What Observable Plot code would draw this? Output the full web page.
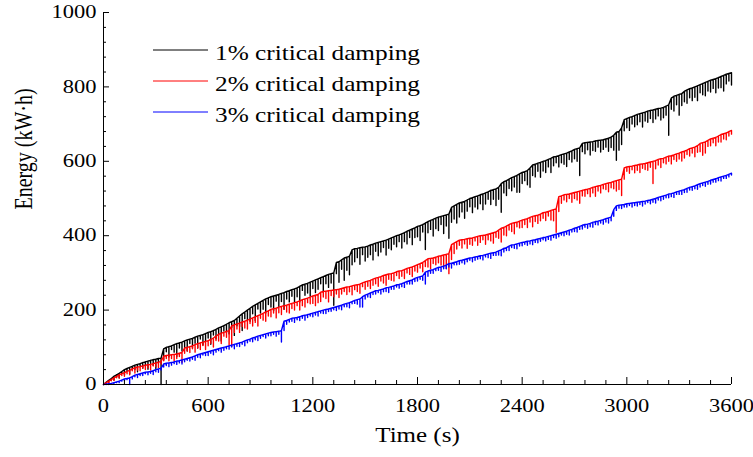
<!DOCTYPE html>
<html>
<head>
<meta charset="utf-8">
<script src="https://cdn.jsdelivr.net/npm/d3@7"></script>
<script src="https://cdn.jsdelivr.net/npm/@observablehq/plot@0.6"></script>
<style>
  html, body { margin: 0; padding: 0; background: #fff; }
</style>
</head>
<body>
<div id="chart"></div>
<script>
// ---- data ----
// Each series: upper edge of the curve every 15 s, and the depth of the
// downward spike hanging from it at that sample.
const sampleStep = 15; // seconds between samples
const time = d3.range(0, 3600 + sampleStep, sampleStep);

// 1% critical damping (black)
const top1 = [
  0, 6, 11, 16, 22, 26, 30, 35,
  40, 43, 46, 49, 52, 54, 56, 59,
  61, 63, 65, 67, 68, 70, 71, 96,
  100, 102, 104, 107, 110, 112, 114, 117,
  120, 122, 124, 127, 130, 132, 134, 137,
  140, 142, 145, 148, 152, 155, 158, 162,
  166, 169, 172, 178, 184, 190, 195, 200,
  205, 210, 214, 218, 222, 226, 230, 233,
  236, 238, 240, 242, 245, 247, 250, 252,
  255, 257, 260, 264, 268, 270, 272, 275,
  278, 281, 284, 287, 290, 293, 296, 298,
  300, 328, 330, 335, 340, 342, 345, 362,
  365, 366, 368, 369, 370, 372, 375, 377,
  380, 382, 384, 386, 388, 391, 394, 397,
  400, 402, 405, 408, 412, 415, 418, 421,
  425, 427, 430, 434, 438, 441, 444, 447,
  450, 452, 454, 456, 458, 476, 480, 484,
  488, 490, 492, 496, 500, 502, 505, 507,
  510, 512, 515, 518, 522, 524, 526, 530,
  540, 545, 548, 552, 556, 559, 562, 566,
  570, 572, 575, 582, 590, 592, 595, 597,
  600, 602, 605, 608, 612, 613, 615, 618,
  620, 622, 625, 628, 632, 634, 636, 648,
  650, 651, 652, 653, 655, 656, 657, 658,
  660, 662, 665, 670, 678, 680, 690, 712,
  715, 718, 720, 723, 726, 728, 730, 732,
  735, 737, 738, 740, 742, 743, 745, 748,
  752, 770, 775, 777, 780, 782, 788, 792,
  795, 797, 800, 803, 806, 809, 812, 815,
  818, 820, 822, 825, 828, 831, 834, 836,
  838
];
const dip1 = [
  0, 4, 8, 3, 10, 6, 12, 5,
  14, 6, 18, 8, 12, 20, 6, 15,
  10, 22, 8, 16, 25, 12, 71, 30,
  12, 28, 10, 20, 35, 14, 24, 18,
  30, 12, 26, 16, 32, 10, 28, 20,
  15, 34, 12, 25, 18, 38, 14, 22,
  30, 16, 40, 20, 28, 45, 18, 25,
  35, 20, 42, 15, 30, 24, 38, 18,
  28, 40, 16, 32, 22, 45, 20, 30,
  18, 36, 24, 42, 15, 30, 26, 38,
  20, 34, 28, 16, 40, 22, 35, 25,
  87, 30, 55, 25, 60, 35, 50, 40,
  35, 25, 45, 20, 38, 30, 26, 42,
  22, 36, 28, 18, 40, 25, 32, 20,
  30, 18, 38, 24, 34, 20, 42, 26,
  28, 40, 20, 71, 30, 24, 45, 28,
  36, 22, 48, 30, 65, 40, 35, 50,
  38, 26, 45, 30, 22, 40, 28, 35,
  24, 42, 30, 20, 38, 26, 45, 32,
  77, 30, 40, 25, 35, 28, 45, 49,
  30, 24, 38, 52, 28, 34, 22, 40,
  26, 32, 20, 38, 24, 17, 30, 22,
  28, 36, 20, 30, 25, 34, 74, 22,
  30, 20, 35, 24, 28, 18, 32, 26,
  22, 35, 28, 40, 75, 50, 45, 30,
  25, 35, 20, 30, 28, 22, 38, 24,
  30, 22, 34, 26, 20, 32, 28, 24,
  82, 30, 40, 25, 56, 32, 28, 36,
  24, 34, 28, 40, 22, 30, 36, 26,
  32, 24, 38, 28, 30, 42, 26, 20,
  33
];

// 2% critical damping (red)
const top2 = [
  0, 5, 9, 13, 18, 22, 26, 29,
  32, 35, 38, 42, 45, 47, 48, 50,
  52, 53, 54, 56, 58, 60, 62, 76,
  78, 79, 80, 81, 82, 84, 86, 98,
  100, 102, 104, 107, 110, 112, 114, 116,
  118, 121, 125, 130, 135, 138, 140, 143,
  145, 158, 160, 163, 165, 168, 170, 173,
  176, 179, 182, 185, 188, 191, 195, 198,
  202, 204, 205, 208, 210, 212, 213, 216,
  218, 220, 222, 225, 228, 230, 232, 235,
  238, 240, 242, 248, 250, 251, 252, 253,
  254, 255, 256, 258, 260, 262, 263, 265,
  267, 268, 270, 273, 276, 278, 280, 283,
  286, 288, 290, 293, 295, 297, 298, 300,
  303, 305, 306, 309, 312, 314, 316, 319,
  322, 325, 328, 333, 338, 339, 340, 342,
  345, 346, 348, 350, 352, 376, 380, 384,
  388, 389, 390, 392, 393, 394, 396, 398,
  400, 401, 402, 404, 406, 408, 410, 415,
  420, 422, 426, 430, 433, 435, 436, 439,
  442, 444, 446, 449, 452, 454, 455, 458,
  462, 463, 465, 468, 470, 472, 505, 507,
  510, 511, 512, 514, 516, 518, 520, 522,
  524, 525, 527, 530, 532, 534, 535, 538,
  540, 542, 543, 546, 548, 550, 552, 582,
  585, 586, 587, 589, 590, 592, 593, 594,
  596, 598, 600, 602, 605, 607, 608, 611,
  614, 615, 617, 620, 622, 625, 627, 630,
  634, 636, 638, 642, 648, 650, 652, 656,
  660, 662, 664, 668, 672, 674, 676, 680,
  683
];
const dip2 = [
  0, 2, 5, 3, 7, 4, 9, 5,
  10, 6, 12, 5, 14, 8, 11, 6,
  12, 8, 15, 6, 10, 14, 7, 12,
  8, 15, 10, 18, 12, 9, 26, 14,
  10, 16, 8, 20, 12, 18, 9, 22,
  14, 10, 24, 12, 18, 28, 10, 16,
  40, 55, 20, 14, 25, 12, 18, 24,
  12, 22, 15, 28, 10, 18, 25, 14,
  20, 12, 26, 15, 22, 10, 18, 24,
  14, 20, 10, 25, 16, 22, 12, 18,
  20, 28, 22, 25, 15, 20, 30, 14,
  18, 12, 22, 15, 10, 20, 14, 24,
  12, 18, 25, 10, 20, 14, 22, 16,
  15, 24, 12, 20, 28, 14, 18, 22,
  10, 20, 15, 24, 12, 18, 26, 14,
  20, 12, 25, 16, 22, 28, 15, 20,
  18, 25, 30, 38, 54, 40, 28, 20,
  14, 22, 12, 26, 16, 20, 10, 24,
  18, 12, 25, 15, 20, 28, 14, 22,
  37, 20, 26, 15, 22, 30, 12, 18,
  20, 14, 24, 12, 28, 16, 22, 18,
  15, 22, 12, 26, 30, 63, 40, 20,
  14, 20, 12, 24, 16, 22, 33, 15,
  18, 12, 22, 15, 26, 14, 20, 12,
  16, 24, 14, 20, 28, 26, 44, 30,
  12, 18, 10, 20, 14, 22, 12, 16,
  20, 14, 60, 22, 15, 24, 12, 18,
  14, 22, 12, 20, 16, 24, 18, 12,
  20, 14, 26, 18, 22, 34, 30, 16,
  18, 12, 22, 16, 20, 14, 18, 12,
  10
];

// 3% critical damping (blue)
const top3 = [
  0, 1, 2, 3, 5, 7, 9, 12,
  15, 16, 18, 21, 25, 27, 29, 31,
  33, 34, 35, 37, 40, 42, 44, 55,
  57, 58, 59, 61, 63, 64, 66, 68,
  70, 72, 74, 77, 80, 82, 84, 86,
  88, 90, 92, 94, 96, 98, 100, 102,
  104, 106, 108, 110, 112, 114, 117, 120,
  122, 125, 127, 130, 132, 134, 136, 138,
  140, 141, 142, 143, 145, 170, 172, 175,
  178, 179, 180, 182, 185, 186, 188, 190,
  192, 194, 196, 198, 200, 202, 203, 205,
  207, 209, 211, 213, 216, 218, 220, 223,
  226, 228, 230, 236, 240, 243, 246, 249,
  252, 253, 255, 257, 260, 261, 263, 265,
  268, 269, 271, 274, 277, 279, 281, 285,
  288, 290, 292, 302, 305, 307, 309, 312,
  315, 316, 318, 321, 325, 326, 328, 330,
  333, 334, 336, 338, 340, 341, 343, 344,
  346, 347, 349, 351, 353, 354, 356, 359,
  362, 366, 368, 372, 375, 376, 378, 380,
  382, 383, 385, 386, 388, 389, 391, 393,
  395, 396, 398, 400, 402, 404, 406, 408,
  410, 412, 415, 417, 420, 422, 425, 428,
  430, 431, 433, 436, 438, 439, 441, 443,
  446, 448, 450, 470, 480, 482, 483, 484,
  486, 487, 488, 489, 490, 491, 492, 493,
  495, 496, 498, 500, 503, 505, 507, 509,
  512, 513, 515, 518, 520, 522, 524, 527,
  530, 532, 534, 537, 540, 542, 544, 546,
  549, 551, 553, 556, 558, 560, 562, 565,
  568
];
const dip3 = [
  0, 1, 2, 1, 3, 2, 4, 3,
  5, 3, 18, 6, 4, 8, 5, 7,
  4, 8, 5, 10, 6, 9, 5, 8,
  6, 10, 7, 5, 9, 6, 11, 7,
  5, 9, 6, 12, 7, 10, 5, 8,
  10, 6, 12, 7, 5, 11, 8, 6,
  9, 5, 12, 7, 10, 6, 13, 8,
  6, 10, 7, 12, 8, 5, 11, 7,
  9, 6, 12, 8, 31, 25, 10, 7,
  8, 12, 6, 10, 7, 13, 8, 6,
  10, 7, 12, 6, 9, 11, 7, 8,
  6, 10, 8, 12, 7, 9, 14, 6,
  8, 12, 22, 28, 10, 8, 12, 7,
  9, 6, 12, 8, 10, 14, 7, 9,
  6, 10, 8, 13, 7, 9, 11, 8,
  10, 7, 12, 32, 14, 8, 10, 6,
  8, 12, 7, 10, 9, 13, 6, 8,
  10, 7, 12, 8, 6, 11, 9, 7,
  8, 12, 6, 10, 14, 7, 9, 11,
  16, 10, 8, 12, 7, 10, 13, 8,
  9, 6, 11, 8, 12, 7, 10, 8,
  6, 10, 8, 12, 7, 11, 9, 6,
  10, 8, 13, 7, 9, 12, 8, 10,
  7, 11, 9, 13, 8, 10, 7, 12,
  9, 14, 10, 18, 12, 8, 10, 7,
  9, 6, 11, 8, 10, 7, 12, 8,
  6, 10, 8, 12, 7, 11, 9, 7,
  10, 8, 12, 7, 9, 11, 8, 10,
  7, 10, 8, 12, 9, 7, 11, 8,
  10, 7, 9, 8, 11, 6, 8, 7,
  5
];

const seriesNames = ["1% critical damping", "2% critical damping", "3% critical damping"];
const seriesColors = ["#000000", "#ff0000", "#0000ff"];

const xMajorTicks = [0, 600, 1200, 1800, 2400, 3000, 3600];
const xMinorTicks = [120, 240, 360, 480, 720, 840, 960, 1080, 1320, 1440, 1560, 1680,
  1920, 2040, 2160, 2280, 2520, 2640, 2760, 2880, 3120, 3240, 3360, 3480];
const yMajorTicks = [0, 200, 400, 600, 800, 1000];
const yMinorTicks = [40, 80, 120, 160, 240, 280, 320, 360, 440, 480, 520, 560,
  640, 680, 720, 760, 840, 880, 920, 960];

const xTitle = "Time (s)";
const yTitle = "Energy (kW·h)";

// ---- layout ----
const W = 753, H = 457;
const mL = 103, mR = 22, mT = 12, mB = 73;
const serif = "'Liberation Serif', 'Times New Roman', Times, serif";
const stretchX = 1.25; // glyphs in the reference are horizontally widened

// path through each sample: upper edge -> spike bottom -> back to upper edge
const series = [[top1, dip1], [top2, dip2], [top3, dip3]];
const tables = series.map(([tops, dips], k) => {
  const rows = [];
  tops.forEach((v, i) => {
    rows.push({t: time[i], e: v});
    if (dips[i] > 0) {
      rows.push({t: time[i], e: v - dips[i]});
      rows.push({t: time[i], e: v});
    }
  });
  return rows;
});

const plot = Plot.plot({
  width: W,
  height: H,
  marginLeft: mL,
  marginRight: mR,
  marginTop: mT,
  marginBottom: mB,
  style: {fontFamily: serif, fontSize: "18px", background: "#fff", color: "#000", overflow: "visible"},
  x: {domain: [0, 3600], label: null},
  y: {domain: [0, 1000], label: null},
  marks: [
    ...tables.map((tab, k) => Plot.line(tab, {x: "t", y: "e", stroke: seriesColors[k], strokeWidth: 1.4})),
    // inward ticks
    Plot.axisX(xMinorTicks, {tickSize: -4, tickFormat: () => "", stroke: "#000"}),
    Plot.axisX(xMajorTicks, {tickSize: -7, tickFormat: () => "", stroke: "#000"}),
    Plot.axisY(yMinorTicks, {tickSize: -3, tickFormat: () => "", stroke: "#000"}),
    Plot.axisY(yMajorTicks, {tickSize: -6, tickFormat: () => "", stroke: "#000"}),
    // labels
    Plot.axisX(xMajorTicks, {tickSize: 0, tickPadding: 15, tickFormat: d => String(d), fontSize: 18}),
    Plot.axisY(yMajorTicks, {tickSize: 0, tickPadding: 7, tickFormat: d => String(d), fontSize: 18}),
    // axis lines
    Plot.ruleX([0], {stroke: "#000", strokeWidth: 1}),
    Plot.ruleY([0], {stroke: "#000", strokeWidth: 1}),
    // titles
    Plot.text([xTitle], {text: d => d, frameAnchor: "bottom", dy: 57, fontSize: 20}),
    Plot.text([yTitle], {text: d => d, frameAnchor: "left", dx: -80, dy: 11, rotate: -90, fontSize: 20})
  ]
});

// widen glyphs around their own anchor
function stretch(el, sx, sy) {
  const tr = el.getAttribute("transform");
  if (tr) {
    el.setAttribute("transform", tr + ` scale(${sx},${sy})`);
  } else {
    const x = +el.getAttribute("x") || 0, y = +el.getAttribute("y") || 0;
    el.setAttribute("transform", `translate(${x},${y}) scale(${sx},${sy}) translate(${-x},${-y})`);
  }
}
plot.querySelectorAll("text").forEach(t => {
  const tr = t.getAttribute("transform") || "";
  if (tr.includes("rotate")) stretch(t, 1, stretchX);
  else stretch(t, stretchX, 1);
});

// legend inside the frame, placed relative to the frame's top-left corner
const svg = d3.select(plot);
const legend = svg.append("g")
  .attr("transform", `translate(${mL + 50},${mT + 38})`)
  .attr("font-family", serif)
  .attr("font-size", 22)
  .attr("text-anchor", "start");
seriesNames.forEach((name, k) => {
  const row = legend.append("g").attr("transform", `translate(0,${k * 31})`);
  row.append("line")
    .attr("x1", 0).attr("x2", 55).attr("y1", 0).attr("y2", 0)
    .attr("stroke", seriesColors[k]).attr("stroke-width", 1);
  row.append("text")
    .attr("transform", `translate(62,10) scale(1.15,1)`)
    .attr("text-anchor", "start")
    .attr("fill", "#000")
    .text(name);
});

document.getElementById("chart").appendChild(plot);
</script>
</body>
</html>
